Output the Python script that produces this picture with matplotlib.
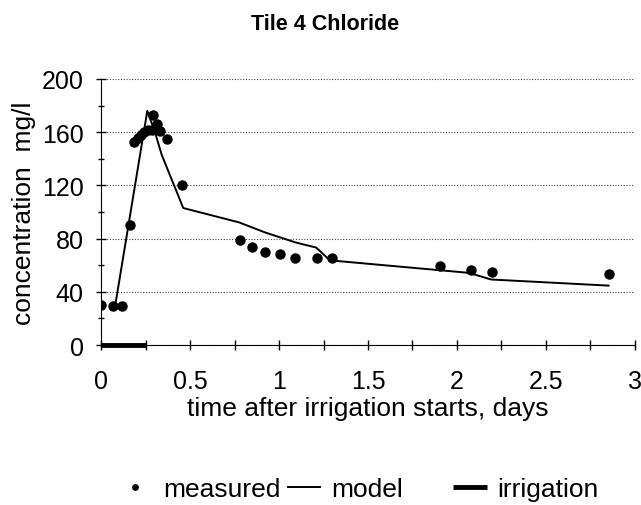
import matplotlib.pyplot as plt
from matplotlib.ticker import MultipleLocator, FormatStrFormatter

plt.rcParams['font.family'] = ['Liberation Sans', 'DejaVu Sans']

# measured chloride concentration
t_meas = [0.0, 0.069, 0.116, 0.162, 0.187, 0.205, 0.222, 0.24, 0.262, 0.285, 0.294,
          0.313, 0.331, 0.369, 0.457, 0.78, 0.847, 0.921, 1.007, 1.088, 1.215, 1.296,
          1.907, 2.076, 2.195, 2.852]
c_meas = [30, 29.5, 29.5, 90.5, 152.5, 155.5, 158, 160, 161.5, 162, 173,
          166.5, 161, 154.5, 120, 78.8, 74, 70, 68.7, 65.5, 65.5, 65.5,
          59.4, 56.4, 55.3, 53.1]

# model curve
t_model = [0.08, 0.26, 0.303, 0.341, 0.462, 0.776, 0.921, 1.094, 1.209, 1.286,
           2.066, 2.192, 2.852]
c_model = [30, 176, 160, 143, 103, 92.2, 84.7, 77.1, 73.3, 63.7,
           54.3, 49.3, 44.7]

# irrigation period
t_irr = [0.0, 0.25]
c_irr = [0, 0]

fig = plt.figure(figsize=(6.41, 5.06), dpi=100)
ax = fig.add_axes([0.1576, 0.316, 0.833, 0.526])

ax.grid(axis='y', linestyle=(0, (1, 1.5)), color='#444444', linewidth=0.8)
ax.set_axisbelow(True)

meas, = ax.plot(t_meas, c_meas, 'o', color='black', markersize=6.5, label='measured')
model, = ax.plot(t_model, c_model, '-', color='black', linewidth=1.4, label='model')
irr, = ax.plot(t_irr, c_irr, '-', color='black', linewidth=3.5, label='irrigation',
               solid_capstyle='butt', clip_on=False)

ax.set_xlim(0, 3)
ax.set_ylim(0, 200)
ax.xaxis.set_major_locator(MultipleLocator(0.5))
ax.xaxis.set_minor_locator(MultipleLocator(0.25))
ax.yaxis.set_major_locator(MultipleLocator(40))
ax.yaxis.set_minor_locator(MultipleLocator(20))
ax.xaxis.set_major_formatter(FormatStrFormatter('%g'))
ax.tick_params(which='both', direction='inout', length=7, width=1)
ax.tick_params(axis='x', labelsize=18, pad=14)
ax.tick_params(axis='y', labelsize=18, pad=9)
ax.tick_params(axis='y', which='minor', length=5)

for s in ['top', 'right']:
    ax.spines[s].set_visible(False)

ax.set_xlabel('time after irrigation starts, days', fontsize=19, labelpad=2)
ax.set_ylabel('concentration  mg/l', fontsize=19, labelpad=4)
fig.text(0.507, 0.941, 'Tile 4 Chloride', ha='center', va='baseline',
         fontsize=15.5, fontweight='bold')

# legend entries placed one by one, as in the original
leg_kw = dict(loc='center left', frameon=False, fontsize=19, borderpad=0,
              borderaxespad=0)
fig.legend(handles=[meas], bbox_to_anchor=(0.190, 0.032), handlelength=1.0,
           handletextpad=0.57, markerscale=0.6, **leg_kw)
fig.legend(handles=[model], bbox_to_anchor=(0.449, 0.032), handlelength=1.21,
           handletextpad=0.42, **leg_kw)
fig.legend(handles=[irr], bbox_to_anchor=(0.7067, 0.032), handlelength=1.29,
           handletextpad=0.38, **leg_kw)

plt.savefig('out.png', dpi=100)
